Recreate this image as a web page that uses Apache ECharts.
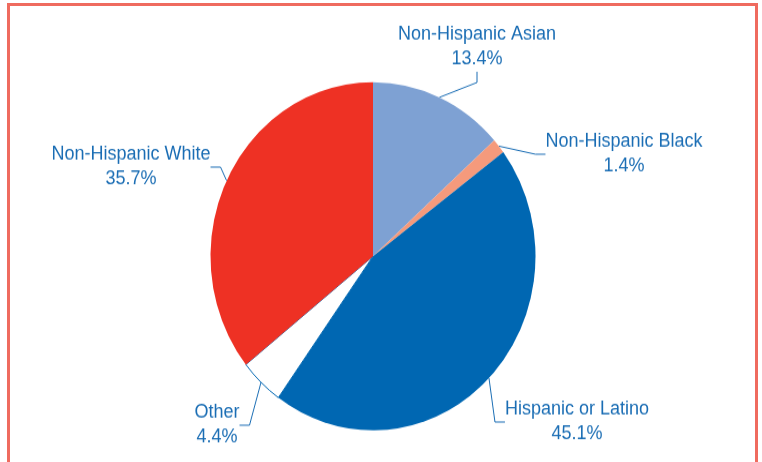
<!DOCTYPE html>
<html>
<head>
<meta charset="utf-8">
<script src="https://cdn.jsdelivr.net/npm/echarts@6/dist/echarts.min.js"></script>
<style>
html,body{margin:0;padding:0;background:#fff;overflow:hidden;}
#frame{position:absolute;left:7px;top:3px;width:745px;height:456px;border:3px solid #ef6b5f;box-sizing:content-box;}
#chart{position:absolute;left:0;top:0;width:762px;height:431px;transform:scaleY(1.071);transform-origin:0 0;}
</style>
</head>
<body>
<div id="frame"></div>
<div id="chart"></div>
<script>
const categories = ['Non-Hispanic Asian', 'Non-Hispanic Black', 'Hispanic or Latino', 'Other', 'Non-Hispanic White'];
const values = [13.4, 1.4, 45.1, 4.4, 35.7];
const colors = ['#7ea1d3', '#f59a7c', '#0067b2', '#ffffff', '#ee3124'];
// label block centres (pixel layout only, in unscaled chart coords)
const labelPos = [[477, 44], [624, 144], [577, 394], [217, 397], [131, 156]];

const chart = echarts.init(document.getElementById('chart'), null, {renderer: 'canvas'});
chart.setOption({
  backgroundColor: 'transparent',
  animation: false,
  series: [{
    type: 'pie',
    center: [373, 239.2],
    radius: 162.5,
    startAngle: 90,
    clockwise: true,
    avoidLabelOverlap: false,
    data: categories.map((c, i) => ({
      name: c,
      value: values[i],
      itemStyle: i === 3 ? {color: colors[i], borderColor: '#0067b2', borderWidth: 1} : {color: colors[i]}
    })),
    label: {
      show: true,
      formatter: (p) => p.name + '\n' + values[p.dataIndex].toFixed(1) + '%',
      color: '#1a6db4',
      fontFamily: 'Liberation Sans, Arial, sans-serif',
      fontSize: 18,
      lineHeight: 23,
      align: 'center'
    },
    labelLine: {
      show: true,
      length: 15,
      length2: 10,
      lineStyle: {color: '#1a6db4', width: 1}
    },
    labelLayout: (params) => {
      const p = labelPos[params.dataIndex];
      return {x: p[0], y: p[1], align: 'center', verticalAlign: 'middle'};
    },
    emphasis: {disabled: true}
  }]
});
</script>
</body>
</html>
